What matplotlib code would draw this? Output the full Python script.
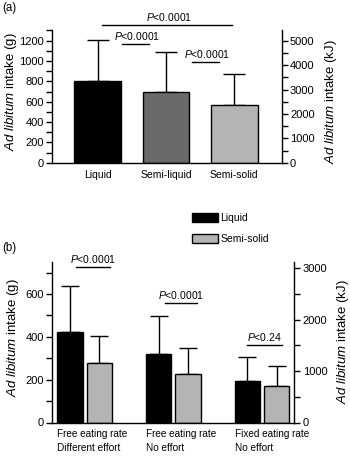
import numpy as np
import matplotlib
matplotlib.use("Agg")
import matplotlib.pyplot as plt
from matplotlib.ticker import MultipleLocator, FixedLocator

plt.rcParams['font.family'] = ['Liberation Sans', 'DejaVu Sans']
plt.rcParams['mathtext.fontset'] = 'custom'
plt.rcParams['mathtext.rm'] = 'Liberation Sans'
plt.rcParams['mathtext.it'] = 'Liberation Sans:italic'
plt.rcParams['mathtext.bf'] = 'Liberation Sans:bold'

# ---------------- data ----------------
a_categories = ['Liquid', 'Semi-liquid', 'Semi-solid']
a_means = [806, 696, 565]
a_sd = [400, 392, 312]
a_colors = ['#000000', '#6a6a6a', '#b4b4b4']

b_groups = ['Free eating rate\nDifferent effort',
            'Free eating rate\nNo effort',
            'Fixed eating rate\nNo effort']
b_liquid = [424, 320, 195]
b_liquid_sd = [215, 177, 112]
b_semisolid = [279, 226, 171]
b_semisolid_sd = [127, 120, 95]
b_series = ['Liquid', 'Semi-solid']

a_pvalues = ['<0.0001', '<0.0001', '<0.0001']
b_pvalues = ['<0.0001', '<0.0001', '<0.24']

KJ_PER_G = 4.17

W, H = 350, 457
fig = plt.figure(figsize=(W / 100, H / 100), dpi=100)

FS = 7.5
TFS = 8


def ax_rect(left, right, bottom_px, top_px):
    return [left / W, 1 - bottom_px / H, (right - left) / W, (bottom_px - top_px) / H]


# ---------------- panel (a) ----------------
axa = fig.add_axes(ax_rect(52, 281.7, 162.7, 162.7 - 1300 * 0.1017))
xa = np.arange(len(a_categories))
axa.bar(xa, a_means, width=0.688, color=a_colors, edgecolor='black', linewidth=1.0,
        zorder=2)
axa.errorbar(xa, a_means, yerr=[np.zeros(3), a_sd], fmt='none', ecolor='black',
             elinewidth=1.0, capsize=8.1, capthick=1.0, zorder=1)
axa.set_xlim(-0.669, 2.694)
axa.set_ylim(0, 1300)
axa.yaxis.set_major_locator(FixedLocator([0, 200, 400, 600, 800, 1000, 1200]))
axa.yaxis.set_minor_locator(MultipleLocator(100))
axa.set_xticks(xa)
axa.set_xticklabels(a_categories, fontsize=FS)
axa.tick_params(axis='x', length=0, pad=5)
axa.tick_params(axis='y', which='both', direction='out', length=4, width=1.0,
                labelsize=TFS, pad=2)
for s in ['top', 'right']:
    axa.spines[s].set_visible(False)
for s in ['left', 'bottom']:
    axa.spines[s].set_linewidth(1.0)
axa.set_ylabel(r'$\mathit{Ad\ libitum}$ intake (g)', fontsize=9.5)
axa.yaxis.set_label_coords(-0.1415, 0.535)

axa2 = axa.twinx()
axa2.set_ylim(0, 1300 * KJ_PER_G)
axa2.yaxis.set_major_locator(FixedLocator([0, 1000, 2000, 3000, 4000, 5000]))
axa2.yaxis.set_minor_locator(MultipleLocator(500))
axa2.tick_params(axis='y', which='both', direction='out', length=4, width=1.0,
                 labelsize=TFS, pad=2)
for s in ['top', 'left', 'bottom']:
    axa2.spines[s].set_visible(False)
axa2.spines['right'].set_linewidth(1.0)
axa2.set_ylabel(r'$\mathit{Ad\ libitum}$ intake (kJ)', fontsize=9.5)
axa2.yaxis.set_label_coords(1.178, 0.46)

# significance (a)
a_sig = [(0.059, 1.962, 1354), (0.351, 0.755, 1164), (1.376, 1.78, 993)]
for (x0, x1, y), p in zip(a_sig, a_pvalues):
    axa.plot([x0, x1], [y, y], color='black', lw=1.0, clip_on=False)
    axa.annotate(r'$\mathit{P}$' + p, xy=((x0 + x1) / 2, y), xytext=(1.5, 3),
                 textcoords='offset points', ha='center', va='baseline',
                 fontsize=FS, annotation_clip=False)

fig.text(2 / W, 1 - 8 / H, '(a)', fontsize=8.3, ha='left', va='center')

# ---------------- panel (b) ----------------
axb = fig.add_axes(ax_rect(52.3, 294.3, 422.5, 422.5 - 750 * 0.2142))
xb = np.arange(len(b_groups))
bw = 0.285
off = 0.166
bl = axb.bar(xb - off, b_liquid, width=bw, color='black', edgecolor='black',
             linewidth=1.0, zorder=2, label=b_series[0])
bs = axb.bar(xb + off, b_semisolid, width=bw, color='#b4b4b4', edgecolor='black',
             linewidth=1.0, zorder=2, label=b_series[1])
axb.errorbar(xb - off, b_liquid, yerr=[np.zeros(3), b_liquid_sd], fmt='none',
             ecolor='black', elinewidth=1.0, capsize=6.2, capthick=1.0, zorder=1)
axb.errorbar(xb + off, b_semisolid, yerr=[np.zeros(3), b_semisolid_sd], fmt='none',
             ecolor='black', elinewidth=1.0, capsize=6.2, capthick=1.0, zorder=1)
axb.set_xlim(-0.365, 2.364)
axb.set_ylim(0, 750)
axb.yaxis.set_major_locator(FixedLocator([0, 200, 400, 600]))
axb.yaxis.set_minor_locator(MultipleLocator(100))
axb.set_xticks(xb - off - bw / 2)
axb.set_xticklabels(b_groups, fontsize=7.2, ha='left', linespacing=1.45)
axb.tick_params(axis='x', length=0, pad=5)
axb.tick_params(axis='y', which='both', direction='out', length=4, width=1.0,
                labelsize=TFS, pad=2)
for s in ['top', 'right']:
    axb.spines[s].set_visible(False)
for s in ['left', 'bottom']:
    axb.spines[s].set_linewidth(1.0)
axb.set_ylabel(r'$\mathit{Ad\ libitum}$ intake (g)', fontsize=9.5)
axb.yaxis.set_label_coords(-0.131, 0.526)

axb2 = axb.twinx()
axb2.set_ylim(0, 750 * KJ_PER_G)
axb2.yaxis.set_major_locator(FixedLocator([0, 1000, 2000, 3000]))
axb2.yaxis.set_minor_locator(MultipleLocator(500))
axb2.tick_params(axis='y', which='both', direction='out', length=4, width=1.0,
                 labelsize=TFS, pad=2)
for s in ['top', 'left', 'bottom']:
    axb2.spines[s].set_visible(False)
axb2.spines['right'].set_linewidth(1.0)
axb2.set_ylabel(r'$\mathit{Ad\ libitum}$ intake (kJ)', fontsize=9.5)
axb2.yaxis.set_label_coords(1.170, 0.503)

# significance (b)
b_sig = [(-0.098, 0.285, 726), (-0.092, 0.272, 558), (-0.173, 0.222, 362)]
for gi, ((x0, x1, y), p) in enumerate(zip(b_sig, b_pvalues)):
    axb.plot([gi + x0, gi + x1], [y, y], color='black', lw=1.0, clip_on=False)
    axb.annotate(r'$\mathit{P}$' + p, xy=(gi + (x0 + x1) / 2, y), xytext=(0, 3),
                 textcoords='offset points', ha='center', va='baseline',
                 fontsize=FS, annotation_clip=False)

leg = axb.legend(handles=[bl, bs], loc='upper left',
                 bbox_to_anchor=(192 / W, 1 - 213 / H), bbox_transform=fig.transFigure,
                 frameon=False, fontsize=FS, handlelength=2.5, handleheight=0.92,
                 handletextpad=0.2, labelspacing=1.1, borderpad=0, borderaxespad=0)

fig.text(2 / W, 1 - 247.7 / H, '(b)', fontsize=8.3, ha='left', va='center')

fig.savefig('out.png', dpi=100)
